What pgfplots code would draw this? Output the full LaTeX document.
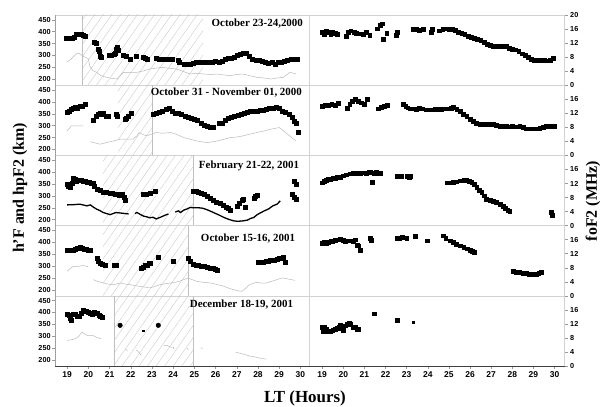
\documentclass[border=0pt]{standalone}
\usepackage{pgfplots}
\pgfplotsset{compat=1.18}
\usepackage{fontspec}
\setmainfont{Liberation Serif}
\setsansfont{Liberation Sans}
\usetikzlibrary{patterns.meta}
\tikzset{ttl/.style={anchor=base east, font=\bfseries\fontsize{11}{11}\selectfont}}
\pgfplotsset{
  panel/.style={scale only axis, height=70.2bp, axis line style={gray!35},
    tick style={gray!80, line width=0.4bp}, major tick length=3bp, tick align=outside,
    xtick=\empty, unbounded coords=jump, anchor=south west,
    /pgf/number format/assume math mode=true,
    ticklabel style={font=\sffamily\bfseries\fontsize{7.3}{8}\selectfont}},
  lpanel/.style={panel, width=254.5bp, xmin=18.43, xmax=30.43, ymin=175, ymax=470,
    ytick={200,250,...,450}, ytick pos=left, yticklabel style={inner sep=1.2bp}},
  rpanel/.style={panel, width=255bp, xmin=18.4, xmax=30.47, ymin=0, ymax=20,
    ytick={0,4,8,12,16}, ytick pos=right, yticklabel pos=right, yticklabel style={inner sep=2.5bp}},
  bottomx/.style={xtick={19,...,30}, xtick pos=bottom,
    xticklabel style={font=\sffamily\bfseries\fontsize{8.5}{9}\selectfont, inner sep=2bp}},
  hp/.style={only marks, mark=square*, mark size=2bp, black},
  hf/.style={gray!55, line width=0.5bp, no marks},
  hfb/.style={black, line width=1.3bp, no marks},
  fo/.style={only marks, mark=square*, mark size=1.9bp, black},
  hatch/.style={draw=none, pattern={Lines[angle=55,distance=7bp,line width=0.35bp]}, pattern color=gray!45},
  vl/.style={gray!50, line width=0.5bp, no marks},
}
\begin{document}
\begin{tikzpicture}[x=1bp,y=1bp]
\path[use as bounding box] (0,0) rectangle (608,406);

% ---------------- Row 1 ----------------
\begin{axis}[lpanel, at={(55bp,320.8bp)}]
\addplot[hatch] coordinates {(19.7,175)(25.4,175)(25.4,470)(19.7,470)} -- cycle;
\addplot[vl] coordinates {(19.7,175)(19.7,470)};
\addplot[hf] coordinates {(18.97,272)(19.2,285)(19.4,305)(19.55,310)(19.7,300)(19.85,292)(20.0,286)(20.07,255)(20.2,237)(20.4,229)(20.6,215)(20.87,208)(21.1,204)(21.34,201)(21.5,215)(21.66,229)(22.0,229)(22.28,229)(22.6,235)(22.9,243)(23.2,247)(23.5,250)(23.8,246)(24.17,243)(24.5,232)(24.8,222)(25.1,225)(25.43,222)(25.8,220)(26.06,222)(26.4,218)(26.7,215)(27.0,220)(27.3,222)(27.6,215)(27.96,208)(28.3,205)(28.6,201)(28.9,205)(29.2,208)(29.4,222)(29.5,229)(29.65,226)(29.8,222)};
\addplot[hp] coordinates {(18.95,372)(19.05,372)(19.15,371)(19.25,373)(19.35,376)(19.45,388)(19.55,391)(19.65,389)(19.75,386)(19.85,379)(20.3,356)(20.35,350)(20.45,326)(20.5,318)(20.58,296)(20.6,291)(21.0,300)(21.1,303)(21.2,305)(21.25,310)(21.3,328)(21.35,334)(21.4,324)(21.65,300)(21.8,298)(21.97,286)(22.28,297)(22.6,291)(22.7,288)(22.78,284)(23.2,288)(23.35,286)(23.5,285)(23.65,285)(23.8,285)(23.95,285)(24.25,278)(24.3,272)(24.5,262)(24.65,262)(24.8,265)(24.95,268)(25.1,270)(25.25,272)(25.4,270)(25.55,272)(25.7,270)(25.85,272)(26.0,275)(26.15,272)(26.3,275)(26.45,285)(26.6,290)(26.75,290)(26.9,292)(27.0,300)(27.15,305)(27.3,310)(27.45,308)(27.6,298)(27.75,286)(27.9,282)(28.05,280)(28.2,275)(28.35,272)(28.5,268)(28.65,270)(28.8,262)(28.95,270)(29.1,272)(29.25,275)(29.4,282)(29.55,285)(29.7,283)(29.85,283)};
\node[ttl] at (rel axis cs:0.988,0.83) {October 23-24,2000};
\end{axis}
\begin{axis}[rpanel, at={(309.5bp,320.8bp)}, ytick={0,4,8,12,16,20}]
\addplot[fo] coordinates {(18.98,15.2)(19.1,14.5)(19.2,15.5)(19.3,15.0)(19.4,14.6)(19.5,15.0)(19.6,14.8)(19.7,14.5)(20.15,14.0)(20.25,15.0)(20.35,15.5)(20.5,15.2)(20.6,14.8)(20.8,14.7)(20.95,14.5)(21.1,15.0)(21.25,14.2)(21.6,16.1)(21.75,17.0)(21.83,17.5)(21.9,13.1)(22.05,14.9)(22.5,14.3)(22.55,15.0)(23.3,15.9)(23.45,16.0)(23.6,15.7)(23.8,15.9)(24.15,15.2)(24.2,15.9)(24.55,15.5)(24.7,15.9)(24.85,16.1)(25.0,16.0)(25.15,15.9)(25.3,15.6)(25.45,15.0)(25.6,14.8)(25.75,14.5)(25.9,14.0)(26.05,13.6)(26.2,13.3)(26.35,13.0)(26.5,12.8)(26.65,12.3)(26.8,11.7)(26.95,11.3)(27.1,11.2)(27.25,11.2)(27.4,11.2)(27.55,11.1)(27.7,11.0)(27.85,10.5)(28.0,10.3)(28.15,10.1)(28.3,9.6)(28.45,9.0)(28.6,8.5)(28.75,7.9)(28.9,7.4)(29.05,7.2)(29.2,7.2)(29.35,7.2)(29.5,7.2)(29.65,7.0)(29.8,7.1)(29.93,7.8)};
\end{axis}

% ---------------- Row 2 ----------------
\begin{axis}[lpanel, at={(55bp,250.6bp)}]
\addplot[hatch] coordinates {(21.4,175)(23.0,175)(23.0,470)(21.4,470)} -- cycle;
\addplot[vl] coordinates {(23.0,175)(23.0,470)};
\addplot[hf] coordinates {(18.99,278)(19.1,288)(19.2,299)(19.5,299)(19.77,299)(19.9,nan)(20.09,232)(20.3,228)(20.56,222)(20.9,230)(21.2,236)(21.5,243)(21.8,243)(22.1,243)(22.3,258)(22.4,271)(22.6,262)(22.75,257)(23.0,265)(23.2,271)(23.5,268)(23.9,271)(24.2,262)(24.5,250)(24.8,243)(25.1,236)(25.35,232)(25.6,229)(25.85,232)(26.1,236)(26.4,243)(26.7,250)(27.0,252)(27.3,257)(27.6,264)(27.95,271)(28.3,278)(28.6,285)(29.0,292)(29.2,278)(29.5,257)(29.65,245)(29.8,236)};
\addplot[hp] coordinates {(19.0,358)(19.1,362)(19.2,368)(19.3,372)(19.4,378)(19.5,372)(19.6,380)(19.7,383)(19.85,389)(20.24,323)(20.35,338)(20.48,347)(20.55,352)(20.65,348)(20.71,351)(20.85,340)(20.95,340)(21.3,347)(21.35,340)(21.75,328)(21.8,333)(21.9,340)(22.0,351)(23.05,347)(23.2,352)(23.35,358)(23.5,360)(23.65,370)(23.8,375)(23.95,362)(24.1,354)(24.25,352)(24.4,347)(24.55,340)(24.7,335)(24.85,330)(25.0,326)(25.15,322)(25.3,310)(25.45,302)(25.6,298)(25.75,295)(25.9,292)(26.15,310)(26.3,312)(26.45,322)(26.6,330)(26.75,335)(26.9,340)(27.05,345)(27.2,350)(27.35,352)(27.5,357)(27.65,360)(27.8,361)(27.95,362)(28.1,363)(28.25,366)(28.4,368)(28.55,372)(28.7,375)(28.85,378)(29.0,372)(29.15,362)(29.3,355)(29.45,347)(29.6,335)(29.7,320)(29.8,310)(29.9,273)};
\node[ttl] at (rel axis cs:0.984,0.85) {October 31 - November 01, 2000};
\end{axis}
\begin{axis}[rpanel, at={(309.5bp,250.6bp)}]
\addplot[fo] coordinates {(19.0,14.0)(19.15,14.3)(19.3,14.2)(19.45,14.5)(19.6,14.3)(19.75,14.8)(20.18,13.5)(20.3,14.6)(20.42,15.4)(20.55,15.9)(20.7,15.5)(20.85,15.0)(20.97,14.5)(21.12,16.0)(21.67,13.3)(21.8,13.8)(21.95,14.0)(22.06,14.2)(22.85,14.5)(22.95,14.0)(23.05,13.6)(23.17,13.3)(23.3,13.3)(23.45,13.2)(23.6,13.5)(23.75,13.3)(23.9,13.0)(24.05,13.0)(24.2,13.0)(24.35,13.2)(24.5,13.2)(24.65,13.2)(24.8,13.3)(24.95,13.3)(25.1,13.5)(25.21,13.7)(25.37,13.2)(25.52,12.6)(25.68,11.8)(25.84,11.1)(26.0,10.4)(26.15,9.7)(26.3,9.2)(26.47,8.9)(26.65,8.9)(26.8,8.8)(26.95,8.9)(27.1,8.8)(27.25,8.5)(27.41,8.3)(27.55,8.3)(27.7,8.3)(27.85,8.2)(28.0,8.3)(28.2,8.2)(28.35,8.3)(28.5,8.0)(28.67,7.6)(28.85,7.6)(29.0,7.6)(29.15,7.6)(29.3,7.8)(29.45,8.0)(29.61,8.3)(29.8,8.3)(30.0,8.4)};
\end{axis}

% ---------------- Row 3 ----------------
\begin{axis}[lpanel, at={(55bp,180.4bp)}]
\addplot[hatch] coordinates {(20.7,175)(24.93,175)(24.93,470)(20.7,470)} -- cycle;
\addplot[vl] coordinates {(24.93,175)(24.93,470)};
\addplot[hfb] coordinates {(19.0,262)(19.3,263)(19.6,265)(19.8,261)(19.93,258)(20.1,262)(20.25,252)(20.4,244)(20.55,238)(20.7,230)(20.85,226)(21.03,221)(21.15,225)(21.3,230)(21.5,228)(21.7,226)(21.9,224)(22.05,nan)(22.2,226)(22.3,230)(22.45,222)(22.6,215)(22.75,212)(22.9,208)(23.05,210)(23.2,203)(23.4,210)(23.6,218)(23.78,224)(23.95,nan)(24.1,232)(24.25,237)(24.35,230)(24.5,240)(24.65,245)(24.8,251)(25.0,250)(25.2,250)(25.4,248)(25.65,240)(25.9,230)(26.15,220)(26.4,209)(26.6,202)(26.85,195)(27.05,193)(27.3,195)(27.5,198)(27.65,205)(27.8,209)(27.95,220)(28.1,228)(28.3,237)(28.5,245)(28.7,258)(28.9,265)(29.05,279)};
\addplot[hp] coordinates {(19.0,349)(19.07,342)(19.14,335)(19.22,355)(19.3,376)(19.38,372)(19.45,362)(19.55,365)(19.65,365)(19.75,362)(19.85,360)(19.93,359)(20.05,358)(20.15,355)(20.24,355)(20.3,340)(20.4,327)(20.55,322)(20.7,317)(20.85,315)(21.03,313)(21.15,310)(21.25,306)(21.34,306)(21.45,303)(21.6,309)(21.68,295)(21.73,282)(22.6,306)(22.75,308)(22.9,313)(23.15,320)(24.96,320)(25.1,318)(25.2,315)(25.3,313)(25.45,305)(25.6,299)(25.75,290)(25.9,282)(26.05,275)(26.2,268)(26.35,262)(26.5,254)(26.6,250)(26.7,240)(27.0,258)(27.1,268)(27.24,282)(27.32,285)(27.4,254)(27.8,292)(27.88,298)(27.95,303)(29.6,306)(29.7,295)(29.8,285)(29.7,362)(29.8,349)};
\node[ttl] at (rel axis cs:0.973,0.82) {February 21-22, 2001};
\end{axis}
\begin{axis}[rpanel, at={(309.5bp,180.4bp)}]
\addplot[fo] coordinates {(19.0,12.2)(19.1,12.6)(19.2,12.9)(19.3,13.2)(19.4,13.3)(19.5,13.4)(19.6,13.6)(19.7,13.7)(19.86,13.8)(20.0,14.2)(20.15,14.5)(20.33,14.8)(20.45,14.9)(20.6,14.8)(20.7,15.0)(20.8,15.0)(20.95,15.1)(21.1,15.0)(21.2,15.2)(21.28,15.2)(21.36,12.4)(21.45,15.0)(21.55,15.2)(21.65,15.0)(21.75,15.0)(22.54,14.1)(22.65,14.2)(22.75,14.0)(23.0,14.0)(23.1,13.8)(23.17,14.0)(24.9,12.2)(25.05,12.2)(25.2,12.3)(25.35,12.5)(25.52,12.8)(25.7,13.0)(25.84,13.0)(25.95,12.7)(26.08,12.4)(26.2,11.7)(26.31,10.9)(26.45,10.1)(26.55,9.5)(26.68,8.5)(26.78,7.6)(26.95,7.3)(27.1,7.0)(27.25,6.6)(27.41,6.0)(27.55,5.5)(27.65,5.0)(27.78,4.5)(27.88,4.1)(29.85,3.8)(29.9,3.0)};
\end{axis}

% ---------------- Row 4 ----------------
\begin{axis}[lpanel, at={(55bp,110.2bp)}]
\addplot[hatch] coordinates {(20.7,175)(24.7,175)(24.7,470)(20.7,470)} -- cycle;
\addplot[vl] coordinates {(24.7,175)(24.7,470)};
\addplot[hf] coordinates {(19.0,278)(19.15,290)(19.3,299)(19.5,299)(19.77,302)(20.0,297)(20.1,nan)(20.24,243)(20.45,235)(20.7,229)(20.95,224)(21.2,222)(21.5,229)(21.75,224)(21.97,222)(22.2,218)(22.4,215)(22.65,212)(22.9,208)(23.15,215)(23.4,222)(23.65,226)(23.9,229)(24.1,232)(24.3,236)(24.5,243)(24.7,250)(24.9,243)(25.1,236)(25.4,232)(25.75,229)(26.1,222)(26.4,215)(26.65,206)(26.85,201)(27.05,196)(27.24,194)(27.4,205)(27.6,222)(27.8,228)(27.95,232)(28.2,228)(28.4,229)(28.65,236)(28.9,243)(29.05,248)(29.2,250)(29.45,245)(29.75,240)};
\addplot[hp] coordinates {(19.0,366)(19.1,366)(19.2,367)(19.3,367)(19.4,370)(19.5,375)(19.6,379)(19.7,374)(19.8,372)(19.9,370)(20.0,368)(20.1,368)(20.4,333)(20.48,322)(20.56,312)(20.65,308)(20.8,305)(21.2,305)(21.3,305)(22.5,291)(22.6,296)(22.7,302)(22.76,305)(22.85,310)(22.92,312)(23.3,336)(24.0,319)(24.7,333)(24.8,320)(24.96,309)(25.1,305)(25.2,302)(25.3,300)(25.45,298)(25.6,296)(25.75,293)(25.9,290)(26.0,287)(26.1,283)(28.0,316)(28.1,317)(28.25,318)(28.4,320)(28.5,322)(28.6,324)(28.75,326)(28.9,330)(29.0,333)(29.1,335)(29.2,336)(29.3,316)};
\node[ttl] at (rel axis cs:0.957,0.77) {October 15-16, 2001};
\end{axis}
\begin{axis}[rpanel, at={(309.5bp,110.2bp)}]
\addplot[fo] coordinates {(19.0,15.0)(19.1,15.2)(19.2,15.0)(19.3,15.3)(19.4,15.5)(19.5,15.5)(19.6,15.8)(19.75,16.0)(19.86,16.2)(20.0,15.8)(20.1,15.5)(20.33,15.7)(20.45,15.5)(20.55,16.0)(20.65,14.5)(20.7,14.3)(20.8,12.9)(21.28,16.5)(21.32,15.9)(22.54,16.3)(22.65,16.5)(22.8,16.6)(23.0,16.5)(23.4,16.9)(23.97,15.7)(24.73,17.1)(24.85,16.3)(25.05,15.7)(25.2,15.2)(25.35,14.8)(25.52,14.3)(25.7,13.8)(25.85,13.4)(26.0,13.1)(26.1,12.7)(26.2,12.4)(28.04,7.1)(28.2,6.8)(28.35,6.7)(28.5,6.5)(28.67,6.4)(28.8,6.2)(29.0,6.1)(29.14,6.2)(29.25,6.5)(29.37,6.8)};
\end{axis}

% ---------------- Row 5 ----------------
\begin{axis}[lpanel, bottomx, at={(55bp,40bp)}]
\addplot[hatch] coordinates {(21.2,175)(24.93,175)(24.93,470)(21.2,470)} -- cycle;
\addplot[vl] coordinates {(21.2,175)(21.2,470)};
\addplot[vl] coordinates {(24.93,175)(24.93,470)};
\addplot[hf] coordinates {(19.0,283)(19.2,285)(19.4,290)(19.55,300)(19.7,318)(19.85,308)(19.93,304)(20.1,304)(20.2,304)(20.4,295)(20.6,290)(20.9,nan)(21.2,258)(21.27,254)(21.5,nan)(21.75,246)(21.85,240)(22.0,nan)(22.25,242)(22.35,236)(22.45,225)(22.5,219)(23.0,nan)(23.55,260)(23.7,262)(23.85,255)(24.0,254)(24.05,245)(24.3,nan)(24.65,250)(24.72,244)(25.0,nan)(25.3,252)(25.38,248)(26.0,nan)(26.95,232)(27.1,230)(27.3,225)(27.5,220)(27.6,217)(27.75,215)(27.9,212)(28.1,208)(28.3,205)(28.4,204)};
\addplot[hp] coordinates {(19.0,392)(19.1,390)(19.15,375)(19.2,369)(19.3,392)(19.4,392)(19.5,383)(19.55,383)(19.65,398)(19.77,408)(19.9,404)(20.0,401)(20.1,395)(20.17,392)(20.3,400)(20.4,397)(20.5,388)(20.56,383)(20.65,378)};
\addplot[only marks, mark=*, mark size=2.3bp, black] coordinates {(21.5,346)(23.3,346)};
\addplot[black, line width=1.3bp, no marks] coordinates {(22.52,322)(22.68,322)};
\node[ttl] at (rel axis cs:0.949,0.83) {December 18-19, 2001};
\end{axis}
\begin{axis}[rpanel, bottomx, at={(309.5bp,40bp)}]
\addplot[fo] coordinates {(19.0,11.0)(19.05,10.0)(19.1,11.2)(19.2,10.5)(19.3,9.8)(19.4,10.0)(19.5,10.3)(19.6,10.6)(19.7,10.8)(19.8,11.2)(19.86,11.6)(19.95,10.8)(20.0,10.3)(20.1,11.5)(20.2,12.0)(20.26,12.2)(20.35,11.8)(20.45,11.0)(20.55,11.0)(20.65,10.5)(20.73,10.5)(21.47,14.9)(22.54,13.1)};
\addplot[only marks, mark=square*, mark size=1bp, black] coordinates {(23.32,12.4)};
\end{axis}

% outer spines
\draw[gray!75, line width=0.6bp] (55,40) -- (55,391);
\draw[black!75, line width=0.6bp] (55,40) -- (564.5,40);

% axis labels
\node[rotate=90, font=\bfseries\fontsize{16}{16}\selectfont] at (20,218) {h'F and hpF2 (km)};
\node[rotate=90, font=\bfseries\fontsize{16}{16}\selectfont] at (593,205) {foF2 (MHz)};
\node[anchor=base, font=\bfseries\fontsize{17}{17}\selectfont] at (305,4) {LT (Hours)};
\end{tikzpicture}
\end{document}
